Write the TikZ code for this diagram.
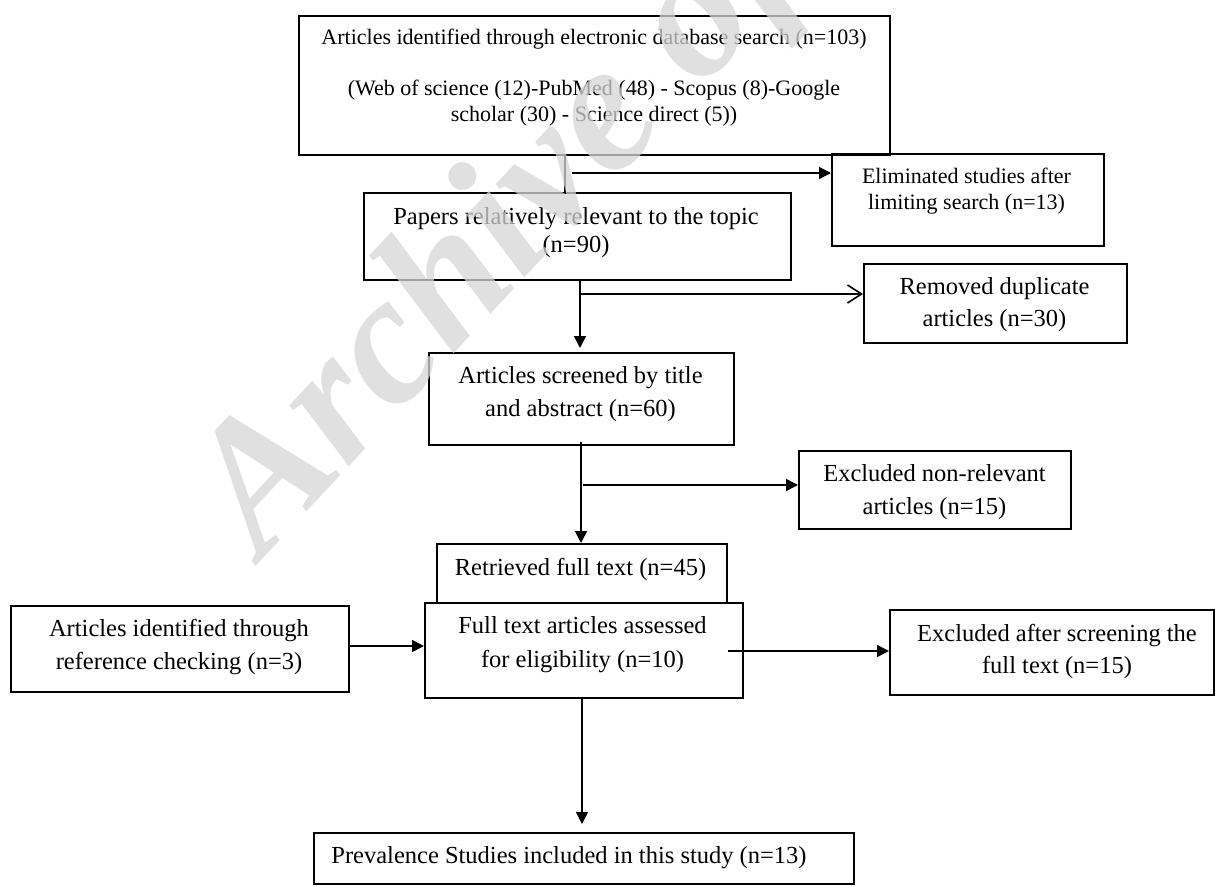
\documentclass[tikz,border=0pt]{standalone}
\usepackage{fontspec}
\setmainfont{Liberation Serif}
\usetikzlibrary{arrows.meta}
\tikzset{
  box/.style={draw, line width=1.6bp, inner sep=0pt, anchor=north west},
  txt/.style={align=center, inner sep=0pt, font=\fontsize{24.5bp}{33bp}\selectfont},
  smalltxt/.style={align=center, inner sep=0pt, font=\fontsize{22bp}{26bp}\selectfont},
  ln/.style={line width=1.6bp},
  arr/.style={line width=1.6bp, -{Triangle[length=12bp,width=12bp]}},
  openarr/.style={line width=1.6bp, -{Straight Barb[length=14bp,width=18bp,line width=1.6bp]}},
  wmark/.style={rotate=47, anchor=base west, inner sep=0pt, text=black!16, opacity=0.75,
    font=\fontsize{185bp}{185bp}\selectfont\bfseries\itshape}
}
\begin{document}
\begin{tikzpicture}[x=1bp,y=-1bp]
\useasboundingbox (0,0) rectangle (1215,886);
\fill[white] (0,0) rectangle (1215,886);

% boxes
\node[box, minimum width=591bp, minimum height=139bp] (top) at (298,15) {};
\node[box, minimum width=272bp, minimum height=92bp] (elim) at (831,153) {};
\node[box, minimum width=427bp, minimum height=87bp] (papers) at (363,192) {};
\node[box, minimum width=263bp, minimum height=79bp] (removed) at (863,263) {};
\node[box, minimum width=305bp, minimum height=92bp] (screened) at (428,352) {};
\node[box, minimum width=272bp, minimum height=78bp] (exclnr) at (798,450) {};
\node[box, minimum width=290bp, minimum height=59bp] (retrieved) at (436,543) {};
\node[box, minimum width=318bp, minimum height=95bp] (full) at (424,602) {};
\node[box, minimum width=338bp, minimum height=86bp] (ref) at (10,605) {};
\node[box, minimum width=324bp, minimum height=85bp] (exclafter) at (889,609) {};
\node[box, minimum width=540bp, minimum height=51bp] (prev) at (313,832) {};

% texts
\node[smalltxt] (topT) at (594,77.5) {Articles identified through electronic database search (n=103)\\[25bp]
  (Web of science (12)-PubMed (48) - Scopus (8)-Google\\scholar (30) - Science direct (5))};
\node[smalltxt] (elimT) at (966.5,191) {Eliminated studies after\\limiting search (n=13)};
\node[txt, font=\fontsize{24.5bp}{28bp}\selectfont] (papersT) at (576,233) {Papers relatively relevant to the topic\\(n=90)};
\node[txt, font=\fontsize{24.5bp}{32bp}\selectfont] (removedT) at (994.5,305) {Removed duplicate\\articles (n=30)};
\node[txt] (screenedT) at (580.5,394.5) {Articles screened by title\\and abstract (n=60)};
\node[txt] (exclnrT) at (934.5,492.5) {Excluded non-relevant\\articles (n=15)};
\node[txt] (retrievedT) at (580.5,569) {Retrieved full text (n=45)};
\node[txt, font=\fontsize{24.5bp}{34bp}\selectfont] (fullT) at (582.5,645) {Full text articles assessed\\for eligibility (n=10)};
\node[txt] (refT) at (179,647.5) {Articles identified through\\reference checking (n=3)};
\node[txt, font=\fontsize{24.5bp}{32bp}\selectfont] (exclafterT) at (1057,651) {Excluded after screening the\\full text (n=15)};
\node[txt] (prevT) at (569,858) {Prevalence Studies included in this study (n=13)};

% connector anchors
\coordinate (c1) at (565,0);
\coordinate (e1) at (572,173);
\coordinate (c2) at (580,0);
\coordinate (d1) at (580,294);
\coordinate (c3) at (581,0);
\coordinate (x1) at (583,485);
\coordinate (r1) at (0,646);
\coordinate (a1) at (728,651);
\coordinate (c4) at (582,0);

% connectors
\draw[ln] (top.south -| c1) -- (papers.north -| c1);
\draw[arr] (e1) -- (elim.west |- e1);
\draw[arr, shorten >=4bp] (papers.south -| c2) -- (screened.north -| c2);
\draw[openarr] (d1) -- (removed.west |- d1);
\draw[arr] ([yshift=4bp]screened.south -| c3) -- (retrieved.north -| c3);
\draw[arr] (x1) -- (exclnr.west |- x1);
\draw[arr] (ref.east |- r1) -- (full.west |- r1);
\draw[arr] (a1) -- (exclafter.west |- a1);
\draw[arr, shorten >=8bp] (full.south -| c4) -- (prev.north -| c4);

% watermark
\begin{scope}
\clip (0,0) rectangle (1215,886);
\node[wmark] (wm) at (262,560) {Archive of SID};
\end{scope}
\end{tikzpicture}
\end{document}
